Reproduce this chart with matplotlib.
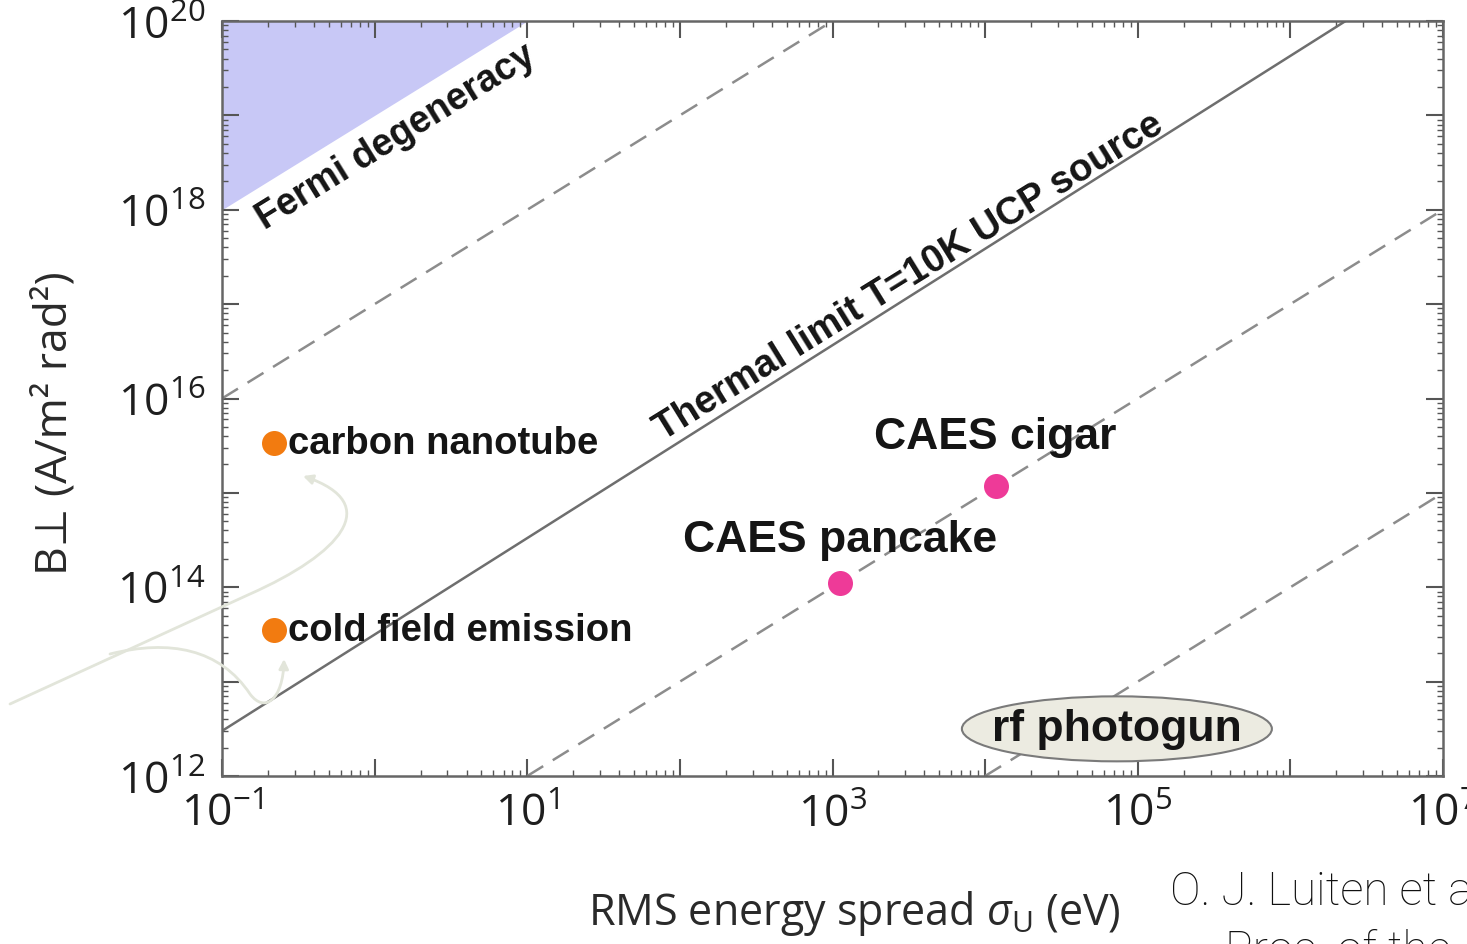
import matplotlib
matplotlib.use('Agg')
import matplotlib.pyplot as plt
import matplotlib.ticker as mticker
import numpy as np
from matplotlib.patches import Ellipse, FancyArrowPatch
from matplotlib.path import Path
from matplotlib.transforms import IdentityTransform

# axis ranges
x_min, x_max = 0.1, 1e7
y_min, y_max = 1e12, 1e20

# boundary lines (two end points each)
fermi_x = [0.1, 10]
fermi_y = [1e18, 1e20]
thermal_x = [0.1, 2.3e6]
thermal_y = [3.0e12, 1e20]
dash_lines_x = [[0.1, 1e3], [10, 1e7], [1e4, 1e7]]
dash_lines_y = [[1e16, 1e20], [1e12, 1e18], [1e12, 1e15]]

# sources
src_names = ['carbon nanotube', 'cold field emission']
src_x = [0.22, 0.22]
src_y = [3.4e15, 3.5e13]
caes_names = ['CAES pancake', 'CAES cigar']
caes_x = [1.12e3, 1.17e4]
caes_y = [1.12e14, 1.17e15]
rf_x, rf_y = 7.3e4, 3.16e12

x_exp = list(range(-1, 8))
y_exp = list(range(12, 21))

plt.rcParams['font.family'] = ['Open Sans', 'DejaVu Sans']
plt.rcParams['mathtext.fontset'] = 'custom'
plt.rcParams['mathtext.rm'] = 'Open Sans'
plt.rcParams['mathtext.it'] = 'Open Sans:italic'

W, H = 1467, 945
fig = plt.figure(figsize=(W / 100, H / 100), dpi=100)
ax = fig.add_axes([222 / W, 168 / H, 1221 / W, 755 / H])
ax.set_xscale('log')
ax.set_yscale('log')
ax.set_xlim(x_min, x_max)
ax.set_ylim(y_min, y_max)

ax.fill_between(fermi_x, fermi_y, y_max, color='#c8c8f6', lw=0, zorder=1)
ax.plot(thermal_x, thermal_y, color='#6e6e6e', lw=1.8, zorder=2)
for xs, ys in zip(dash_lines_x, dash_lines_y):
    ax.plot(xs, ys, color='#8c8c8c', lw=1.8, dashes=(7.5, 4.5), zorder=2)

ax.plot(src_x, src_y, 'o', ms=18, color='#f27b10', mec='none', zorder=4)
ax.plot(caes_x, caes_y, 'o', ms=18, color='#ee3a98', mec='none', zorder=4)

bold = dict(family=['Liberation Sans', 'DejaVu Sans'], fontweight='bold', color='#151515')
for name, x, y in zip(src_names, src_x, src_y):
    ax.annotate(name, (x, y), xytext=(10, 0), textcoords='offset points',
                ha='left', va='center', fontsize=27.5, **bold)
for name, x, y, dy in zip(caes_names, caes_x, caes_y, [31, 36]):
    ax.annotate(name, (x, y), xytext=(0, dy), textcoords='offset points',
                ha='center', va='center', fontsize=32, **bold)

# rotation of slope-1 lines on screen
p1 = ax.transData.transform((1, 1e13))
p2 = ax.transData.transform((10, 1e14))
angle = np.degrees(np.arctan2(p2[1] - p1[1], p2[0] - p1[0]))
ax.text(10 ** 3.5, 10 ** 17.3, 'Thermal limit T=10K UCP source', rotation=angle,
        rotation_mode='anchor', ha='center', va='center', fontsize=27.5, **bold)
ax.text(10 ** 0.14, 10 ** 18.78, 'Fermi degeneracy', rotation=angle,
        rotation_mode='anchor', ha='center', va='center', fontsize=27, **bold)

# rf photogun ellipse
cx, cy = ax.transData.transform((rf_x, rf_y))
ax.add_artist(Ellipse((cx, cy), 310, 65, transform=IdentityTransform(),
                      fc='#ecebe1', ec='#7a7a7a', lw=1.5, zorder=3))
ax.text(rf_x, rf_y, 'rf photogun', ha='center', va='center', fontsize=32,
        zorder=5, **bold)

# ticks
ax.set_xticks([10.0 ** k for k in x_exp])
ax.set_xticklabels(['$\\mathdefault{10^{%d}}$' % k if k % 2 else '' for k in x_exp])
ax.set_yticks([10.0 ** k for k in y_exp])
ax.set_yticklabels(['$\\mathdefault{10^{%d}}$' % k if k % 2 == 0 else '' for k in y_exp])
for axis in (ax.xaxis, ax.yaxis):
    axis.set_minor_locator(mticker.LogLocator(base=10, subs=np.arange(2, 10), numticks=100))
    axis.set_minor_formatter(mticker.NullFormatter())
ax.tick_params(which='both', direction='in', top=True, right=True, color='#555555')
ax.tick_params(which='major', length=12, width=1.5, labelsize=32, pad=12, labelcolor='#1e1e1e')
ax.tick_params(which='minor', length=4, width=1)
for sp in ax.spines.values():
    sp.set_color('#666666')
    sp.set_linewidth(1.8)

# axis titles
fig.text(854 / W, 1 - 914 / H, 'RMS energy spread $\\sigma_\\mathrm{U}$ (eV)',
         ha='center', va='center', fontsize=31, color='#2a2a2a')
fig.text(55 / W, 1 - 423 / H, 'B\u22a5 (A/m\u00b2 rad\u00b2)', rotation=90,
         ha='center', va='center', fontsize=32, color='#2a2a2a')

# citation (cut by the figure edge, as in the source image)
cite = dict(family=['Roboto', 'DejaVu Sans'], fontweight='light', color='#111111', fontsize=33)
fig.text(1170 / W, 1 - 905 / H, 'O. J. Luiten et al.,', va='baseline', **cite)
fig.text(1225 / W, 1 - 964 / H, 'Proc. of the 4', va='baseline', **cite)

# pale hand-drawn arrows on the left
def fp(pts):
    return [(x / W, 1 - y / H) for x, y in pts]

pale = dict(arrowstyle='-|>', mutation_scale=14, color='#e2e5da', lw=2,
            transform=fig.transFigure)
pathA = Path(fp([(10, 705), (250, 595), (340, 555), (385, 505), (303, 477)]),
             [Path.MOVETO, Path.LINETO, Path.CURVE4, Path.CURVE4, Path.CURVE4])
pathB = Path(fp([(110, 655), (170, 640), (220, 650), (250, 695),
                 (265, 715), (283, 700), (284, 660)]),
             [Path.MOVETO, Path.CURVE4, Path.CURVE4, Path.CURVE4,
              Path.CURVE4, Path.CURVE4, Path.CURVE4])
fig.add_artist(FancyArrowPatch(path=pathA, **pale))
fig.add_artist(FancyArrowPatch(path=pathB, **pale))

fig.savefig('out.png', dpi=100)
